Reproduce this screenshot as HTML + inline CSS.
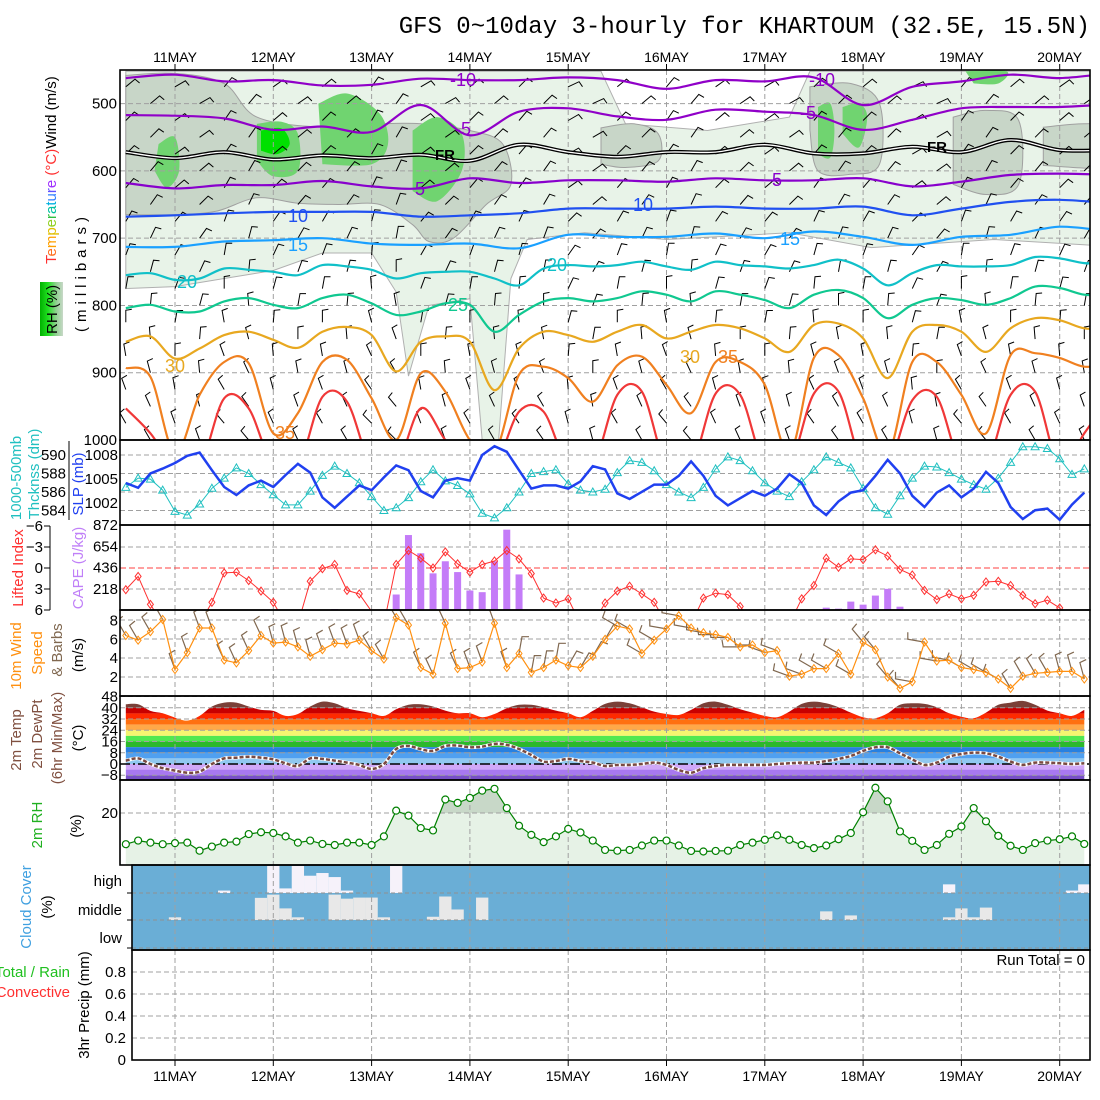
<!DOCTYPE html>
<html><head><meta charset="utf-8">
<style>
body{margin:0;background:#fff}
svg{display:block;font-family:"Liberation Sans",sans-serif}
.tick{font-size:15px;fill:#000}
.lab{font-size:15px}
</style></head>
<body>
<svg id="chart" width="1100" height="1100" viewBox="0 0 1100 1100" xmlns="http://www.w3.org/2000/svg">
<defs>
<clipPath id="c1"><rect x="120" y="70" width="970" height="370"/></clipPath>
<clipPath id="c2"><rect x="120" y="441" width="970" height="84"/></clipPath>
<clipPath id="c3"><rect x="120" y="525" width="970" height="85"/></clipPath>
<clipPath id="c4"><rect x="120" y="610" width="970" height="86"/></clipPath>
<clipPath id="c5"><rect x="120" y="696" width="970" height="84"/></clipPath>
<clipPath id="c6"><rect x="120" y="781" width="970" height="84"/></clipPath>
<clipPath id="tclip"><path id="tclippath" d=""/></clipPath>
<clipPath id="rhhigh"><rect x="120" y="781" width="970" height="32"/></clipPath>
<linearGradient id="rhbox" x1="0" x2="1" y1="0" y2="0"><stop offset="0" stop-color="#00b000"/><stop offset="0.35" stop-color="#20e020"/><stop offset="0.7" stop-color="#90d090"/><stop offset="1" stop-color="#c8d8c8"/></linearGradient>
</defs>
<rect x="0" y="0" width="1100" height="1100" fill="#fff"/>
<text x="1090" y="33" text-anchor="end" font-family="Liberation Mono, monospace" font-size="24" fill="#000">GFS 0~10day 3-hourly for KHARTOUM (32.5E, 15.5N)</text>

<g id="p1" clip-path="url(#c1)"></g>
<g id="p2" clip-path="url(#c2)"></g>
<g id="p3" clip-path="url(#c3)"></g>
<g id="p4" clip-path="url(#c4)"></g>
<g id="p5" clip-path="url(#c5)"></g>
<g id="p6" clip-path="url(#c6)"></g>
<g id="p7"></g>
<g id="p8"></g>
<g id="frames"></g>
<g id="axes"></g>

<g>
<text class="lab" transform="translate(86,272) rotate(-90)" text-anchor="middle" letter-spacing="5">(millibars)</text>
<text class="lab" transform="translate(56,264) rotate(-90)"><tspan fill="#ff3030">T</tspan><tspan fill="#ff7020">e</tspan><tspan fill="#ffa000">m</tspan><tspan fill="#e0c000">p</tspan><tspan fill="#90d020">e</tspan><tspan fill="#30c040">r</tspan><tspan fill="#00c0a0">a</tspan><tspan fill="#00b0e0">t</tspan><tspan fill="#3080ff">u</tspan><tspan fill="#6050ff">r</tspan><tspan fill="#a030ff">e</tspan><tspan fill="#ff3030"> (°C)</tspan><tspan fill="#000">Wind (m/s)</tspan></text>
<rect x="40" y="282" width="23" height="54" fill="url(#rhbox)"/>
<text class="lab" transform="translate(57,334) rotate(-90)">RH (%)</text>
</g>
<g>
<text class="lab" fill="#20c0c0" transform="translate(21,478) rotate(-90)" text-anchor="middle">1000-500mb</text>
<text class="lab" fill="#20c0c0" transform="translate(39,474) rotate(-90)" text-anchor="middle">Thcknss (dm)</text>
<text class="lab" fill="#2040f0" transform="translate(83,484) rotate(-90)" text-anchor="middle">SLP (mb)</text>
</g>
<g>
<text class="lab" fill="#ff3030" transform="translate(23,568) rotate(-90)" text-anchor="middle">Lifted Index</text>
<text class="lab" fill="#c080f8" transform="translate(83,568) rotate(-90)" text-anchor="middle">CAPE (J/kg)</text>
</g>
<g>
<text class="lab" fill="#ff9010" transform="translate(21,656) rotate(-90)" text-anchor="middle">10m Wind</text>
<text class="lab" fill="#ff9010" transform="translate(42,653) rotate(-90)" text-anchor="middle">Speed</text>
<text class="lab" fill="#806850" transform="translate(62,650) rotate(-90)" text-anchor="middle">&amp; Barbs</text>
<text class="lab" transform="translate(83,655) rotate(-90)" text-anchor="middle">(m/s)</text>
</g>
<g>
<text class="lab" fill="#805040" transform="translate(21,740) rotate(-90)" text-anchor="middle">2m Temp</text>
<text class="lab" fill="#805040" transform="translate(42,734) rotate(-90)" text-anchor="middle">2m DewPt</text>
<text class="lab" fill="#805040" transform="translate(62,738) rotate(-90)" text-anchor="middle">(6hr Min/Max)</text>
<text class="lab" transform="translate(83,738) rotate(-90)" text-anchor="middle">(°C)</text>
</g>
<g>
<text class="lab" fill="#20b020" transform="translate(42,825) rotate(-90)" text-anchor="middle">2m RH</text>
<text class="lab" transform="translate(81,826) rotate(-90)" text-anchor="middle">(%)</text>
</g>
<g>
<text class="lab" fill="#40a0e0" transform="translate(31,907) rotate(-90)" text-anchor="middle">Cloud Cover</text>
<text class="lab" transform="translate(52,907) rotate(-90)" text-anchor="middle">(%)</text>
<text class="tick" x="122" y="886" text-anchor="end">high</text>
<text class="tick" x="122" y="915" text-anchor="end">middle</text>
<text class="tick" x="122" y="943" text-anchor="end">low</text>
</g>
<g>
<text class="lab" fill="#20c020" x="70" y="977" text-anchor="end">Total / Rain</text>
<text class="lab" fill="#ff3030" x="70" y="997" text-anchor="end">Convective</text>
<text class="lab" transform="translate(89,1005) rotate(-90)" text-anchor="middle">3hr Precip (mm)</text>
<text class="tick" x="1085" y="965" text-anchor="end" font-size="14">Run Total = 0</text>
</g>
</svg>
<script>
const dayLabels = ["11MAY","12MAY","13MAY","14MAY","15MAY","16MAY","17MAY","18MAY","19MAY","20MAY"];
const slp = [1004.5,1003.9,1005.7,1006.3,1007.0,1007.9,1008.3,1006.1,1004.0,1003.0,1004.2,1004.8,1004.0,1005.5,1006.9,1005.8,1002.7,1001.4,1002.8,1004.2,1003.6,1005.2,1006.7,1006.1,1003.5,1002.7,1004.8,1005.1,1004.8,1008.0,1009.1,1008.4,1006.1,1003.8,1004.2,1004.2,1003.8,1004.7,1006.6,1006.2,1003.2,1002.5,1003.4,1004.3,1004.3,1005.4,1007.2,1005.4,1002.9,1001.7,1002.6,1003.5,1002.9,1003.8,1005.6,1004.5,1001.7,1000.5,1002.2,1003.3,1003.6,1005.4,1007.4,1005.7,1002.9,1001.5,1003.3,1004.2,1002.7,1003.8,1005.9,1004.5,1001.5,1000.0,1001.1,1001.3,999.9,1001.8,1003.3];
const thick = [586.5,587.5,587.4,586.2,583.9,583.5,584.7,586.4,587.5,588.6,588.0,586.8,585.7,584.6,584.6,586.1,587.8,588.8,588.0,587.0,585.5,584.0,584.3,585.4,587.1,588.4,587.2,586.7,585.8,583.7,583.2,584.3,586.0,588.0,588.2,588.4,586.9,586.2,586.0,586.3,588.1,589.4,589.2,588.3,586.8,586.0,585.4,586.5,588.5,589.8,589.4,588.3,587.0,586.1,585.5,587.1,588.4,589.8,589.2,588.6,586.4,584.3,583.6,585.6,587.5,588.8,588.7,588.1,587.4,586.8,586.3,587.5,589.2,590.9,590.9,590.7,589.6,587.9,588.5];
const liftedIndex = [3.1,1.2,5.2,8,8,8,8,4.9,0.7,0.6,1.8,3.3,4.9,8,8,1.9,0.1,-0.5,3.2,3.7,6.2,8,-0.5,-2.5,-1.4,0,-2.3,-0.6,0.6,-0.5,-1.0,-2.5,-1.3,0.8,4.3,5.0,4.4,8,8,5.0,3.3,2.6,3.7,4.9,8,8,8,4.3,3.6,3.8,5.5,8,8,8,8,4.4,2.5,-1.4,-0.1,-1.3,-1.2,-2.6,-1.7,0.2,1.0,3.2,4.5,3.7,4.4,3.9,2.0,1.9,2.5,3.9,5.1,4.6,5.7,8,8];
const cape = [0,0,0,0,0,0,0,0,0,0,0,0,0,0,0,0,0,10,0,0,0,0,159,769,582,376,500,389,200,183,500,824,365,0,0,0,0,0,0,0,0,0,0,0,0,0,0,0,0,0,0,0,0,0,0,0,0,24,14,86,55,148,217,34,0,0,0,0,0,0,0,0,0,0,0,0,0,0,0];
const windSpeed = [6.4,5.9,6.8,8.1,2.8,4.6,7.2,7.2,3.8,3.5,4.8,6.4,5.6,5.7,5.2,4.2,4.9,5.6,5.5,5.9,4.8,3.9,8.3,7.5,3.0,2.3,7.7,2.9,3.0,3.6,7.7,3.0,4.5,2.5,3.0,3.8,3.2,3.0,4.2,6.0,7.4,7.1,4.5,5.9,7.1,8.5,7.2,6.7,6.5,6.2,5.2,5.4,4.6,4.8,2.1,2.3,2.9,2.9,4.5,2.3,5.7,4.9,2.0,0.8,1.5,5.7,3.7,3.8,3.0,2.8,2.5,1.8,0.8,2.1,2.4,2.5,2.6,2.6,1.8];
const windDir12h = [330,340,335,345,340,330,335,340,10,30,300,280,270,290,300,320,280,300,330,345];
const temp2m = [42.5,42.5,37.8,36.1,33.0,30.9,34.2,40.9,43.7,43.7,40.9,38.5,37.8,34.2,35.6,40.9,44.4,43.2,39.7,37.8,36.1,34.2,39.0,42.1,42.5,40.9,38.0,36.1,36.1,33.3,35.6,39.7,42.1,42.1,40.4,38.0,36.1,33.3,37.8,42.8,44.4,43.2,40.4,37.3,35.6,34.9,38.5,43.2,44.4,42.1,39.0,36.6,34.2,33.3,37.3,42.8,44.4,43.2,40.4,36.6,33.3,32.6,36.1,42.1,43.2,42.8,40.4,36.1,33.7,32.6,36.6,42.1,43.7,44.9,42.1,38.0,36.1,34.2,38.5];
const dew2m = [2.4,4.0,0,-3.0,-4.7,-6.2,-5.4,0,4.0,4.5,5.2,4.5,3.3,0.5,-1.4,4.0,3.6,2.4,1.0,-0.7,-3.5,0,10.7,12.8,10.5,9.3,12.8,13.1,11.9,12.4,14.3,13.6,10.7,6.4,1.7,2.1,3.6,2.1,1.0,-1.4,-0.7,-0.7,0,1.0,-0.7,-4.3,-6.2,-3.0,-1.4,-0.7,-0.7,-0.7,-0.7,0,0.5,1.0,1.0,2.1,3.6,5.7,9.3,11.9,11.9,7.6,3.3,-0.7,1.0,5.2,7.1,8.1,7.6,5.2,1.7,-0.7,1.0,1.0,0.5,0,0.5];
const rh2m = [8,9.4,8.6,8,8.4,8.6,5.5,7.1,8.6,9,11.9,12.6,12.3,11,8.6,9.4,8.1,7.7,8.6,8.6,7.7,11,20.9,19,14.2,13.3,25.2,23.9,25.8,28.6,29.3,21.9,15.1,11.6,8.8,11,13.9,12.5,9.4,5.8,5.5,5.8,7.5,9.4,9.4,7.5,5.4,5.2,5.4,5.5,7.7,8.6,9.7,11.4,9.7,7.7,6.5,7.5,9.9,12.3,20.3,29.7,24.5,12.9,9.3,5.8,7.7,12,14.8,21.9,16.8,11.2,7.4,5.8,8.4,9.4,9.9,11,8.1];
const cloudHigh = [0,0,0,0,0,0,0,0,9,0,0,0,100,17,100,64,74,59,9,0,0,0,100,0,0,0,0,0,0,0,0,0,0,0,0,0,0,0,0,0,0,0,0,0,0,0,0,0,0,0,0,0,0,0,0,0,0,0,0,0,0,0,0,0,0,0,0,32,0,0,0,0,0,0,0,0,0,9,32];
const cloudMid = [0,0,0,0,10,0,0,0,0,0,0,82,94,43,10,0,0,94,79,83,83,10,0,0,0,12,87,39,0,83,0,0,0,0,0,0,0,0,0,0,0,0,0,0,0,0,0,0,0,0,0,0,0,0,0,0,0,32,0,17,0,0,0,0,0,0,0,10,43,10,46,0,0,0,0,0,0,0,0];
const cloudLow = new Array(79).fill(0);
const isoM10 = [462,457,467,465,473,472,463,465,465,461,465,478,465,467,461,502,475,467,457,462,455];
const isoM5 = [517,518,522,539,534,542,502,547,512,507,519,524,509,512,517,539,524,507,505,505,501];
const iso0 = [572,581,572,583,577,581,576,585,561,572,579,572,572,561,574,574,564,572,554,569,569];
const iso5 = [618,626,621,621,615,623,626,611,618,614,614,616,611,614,614,611,623,616,606,604,606];
const iso10 = [668,666,663,661,661,661,668,666,663,656,656,656,653,656,656,653,666,656,646,643,648];
const iso15 = [713,713,705,703,700,708,710,708,715,695,698,698,693,700,690,698,710,698,695,683,690];
const iso20 = [755,752,762,760,745,747,750,755,740,742,747,760,752,750,750,760,770,745,740,742,740,735,742,747,735,740,742,745,740,732,745,770,752,740,742,742,740,728,730,737,737];
const iso25 = [804,799,809,809,794,789,799,804,789,784,797,814,809,797,799,839,814,794,789,794,789,779,784,794,779,784,792,804,784,777,789,819,799,789,792,799,789,772,774,784,784];
const iso30 = [854,846,879,864,844,839,851,863,839,832,844,898,854,846,854,926,864,839,844,854,839,829,849,839,829,834,849,869,829,827,849,908,839,829,839,869,834,819,822,834,834];
const iso35 = [893,906,1020,933,884,886,990,960,884,881,938,1000,901,928,1000,1020,903,891,908,943,889,876,918,960,884,884,918,1020,878,874,938,1020,884,884,933,990,874,871,878,891,886];
const iso40 = [953,990,1040,1040,938,953,1040,1040,936,943,1040,1040,953,1000,1040,1040,958,958,1040,1040,933,928,1040,1040,931,933,1040,1040,931,928,1040,1040,941,936,1040,1040,933,928,1040,990,938];
const levelDirs = [50,50,45,45,45,40,40,35,30,25,20,15,10,5,0,355,350,345,340,335,330,330];
const dirShift12h = [0,10,-10,5,0,-15,10,0,-5,15,0,-10,5,10,-5,0,15,-10,0,5];
const rhLight = [[-12,452],[104,452],[110,530],[130,540],[150,520],[155,452],[228,452],[228,712],[200,702],[170,714],[150,692],[120,702],[100,692],[86,702],[82,760],[79,1000],[75,1000],[72,790],[62,800],[57,905],[54,780],[48,722],[36,722],[24,748],[12,760],[0,772],[-12,775]];
const rhDark = [[[-12,458],[0,455],[12,470],[20,520],[36,535],[50,530],[60,530],[72,540],[80,560],[82,620],[76,650],[68,700],[62,705],[58,680],[50,650],[40,650],[30,648],[20,640],[10,660],[0,665],[-12,665]],
 [[104,536],[112,530],[118,545],[118,585],[110,595],[104,590]],
 [[155,475],[165,470],[172,500],[172,590],[165,605],[157,600],[155,540]],
 [[190,520],[198,510],[206,525],[206,620],[198,635],[190,620]],
 [[212,535],[222,530],[230,535],[230,592],[212,592]]];
const rhGreen = [[[-4,560],[0,550],[1,600],[-2,625],[-5,600]],[[20,530],[26,527],[30,545],[30,600],[24,608],[20,585]],[[35,500],[42,485],[50,515],[52,560],[48,590],[36,590]],[[58,540],[64,520],[70,545],[70,600],[64,645],[58,630]],[[157,505],[160,500],[161,540],[160,580],[157,575]],[[163,505],[167,500],[169,520],[167,565],[163,545]],[[193,452],[203,452],[201,470],[195,470]]];
const rhBright = [[[21,540],[26,537],[28,560],[25,575],[21,570]]];

const NS='http://www.w3.org/2000/svg';
function mk(tag, attrs, parent){const e=document.createElementNS(NS,tag);for(const k in attrs)e.setAttribute(k,attrs[k]);parent.appendChild(e);return e;}
const X0=175, DAY=98.3;
const hx=h=>X0+h*DAY/24;
const ix=i=>hx(-12+3*i);
const py=p=>70+(p-450)*370/550;
function smooth(pts){let d='M'+pts[0][0].toFixed(1)+','+pts[0][1].toFixed(1);
 for(let i=0;i<pts.length-1;i++){const p0=pts[Math.max(0,i-1)],p1=pts[i],p2=pts[i+1],p3=pts[Math.min(pts.length-1,i+2)];
  const c1=[p1[0]+(p2[0]-p0[0])/6,p1[1]+(p2[1]-p0[1])/6],c2=[p2[0]-(p3[0]-p1[0])/6,p2[1]-(p3[1]-p1[1])/6];
  d+=' C'+c1[0].toFixed(1)+','+c1[1].toFixed(1)+' '+c2[0].toFixed(1)+','+c2[1].toFixed(1)+' '+p2[0].toFixed(1)+','+p2[1].toFixed(1);}
 return d;}
function poly(pts){return pts.map(p=>p[0].toFixed(1)+','+p[1].toFixed(1)).join(' ');}
const GRID='#a0a0a0';
function hgrid(parent,y,x0,color,dash){const l=mk('line',{x1:x0||120,x2:1090,y1:y,y2:y,stroke:color||GRID,'stroke-width':1,'stroke-dasharray':dash||'5,3'},parent);
 
 }
function vgrid(parent,y0,y1){for(let d=0;d<dayLabels.length;d++){const x=X0+DAY*d;const l=mk('line',{x1:x,x2:x,y1:y0,y2:y1,stroke:GRID,'stroke-width':1,'stroke-dasharray':'5,3'},parent);
 
 }}
const N=slp.length;

// panel 1
const p1=document.getElementById('p1');
const hp=a=>a.map(q=>[hx(q[0]),py(q[1])]);
let sh=mk('polygon',{points:poly(hp(rhLight)),fill:'#e8f3e8',stroke:'#b0b0b0','stroke-width':1},p1);


rhDark.forEach(r=>{const e=mk('path',{d:smooth(hp(r))+'Z',fill:'#c8d6c8',stroke:'#a0a0a0','stroke-width':1},p1);
 
 });
rhGreen.forEach(r=>{const e=mk('path',{d:smooth(hp(r))+'Z',fill:'#70d470'},p1);
 
 });
rhBright.forEach(r=>{const e=mk('path',{d:smooth(hp(r))+'Z',fill:'#00e000'},p1);
 
 });
[500,600,700,800,900].forEach(p=>hgrid(p1,py(p)));
vgrid(p1,70,440);
for(let c=0;c<40;c++){const h=-12+6*c;const x=hx(h);
 levelDirs.forEach((ld,l)=>{if((l+c)%2)return;const p=475+25*l;const y=py(p);const dir=(ld+dirShift12h[Math.min(19,Math.floor(c/2))])*Math.PI/180;
  const tx=x+Math.sin(dir)*12,ty=y-Math.cos(dir)*12;const fd=dir+80*Math.PI/180;
  const b=mk('path',{d:'M'+x.toFixed(1)+','+y.toFixed(1)+'L'+tx.toFixed(1)+','+ty.toFixed(1)+'L'+(tx+Math.sin(fd)*6).toFixed(1)+','+(ty-Math.cos(fd)*6).toFixed(1),fill:'none',stroke:'#000','stroke-width':1},p1);
  
  });}
const iso12=[[isoM10,'#9000c8','isotherm-minus10'],[isoM5,'#9000c8','isotherm-minus5'],[iso5,'#8800cc','isotherm-5'],[iso10,'#2050f0','isotherm-10'],[iso15,'#1aa0ff','isotherm-15']];
iso12.forEach(s=>{const pts=s[0].map((p,k)=>[hx(-12+12*k),py(p)]);const e=mk('path',{d:smooth(pts),fill:'none',stroke:s[1],'stroke-width':2.2},p1);
 
 });
{const pts=iso0.map((p,k)=>[hx(-12+12*k),py(p)]);
 const e1=mk('path',{d:smooth(pts),fill:'none',stroke:'#000','stroke-width':4},p1);
 
 
 const e2=mk('path',{d:smooth(pts),fill:'none',stroke:'#fff','stroke-width':1.3},p1);
 
 }
const iso6=[[iso20,'#10c0c8','isotherm-20'],[iso25,'#10c890','isotherm-25'],[iso30,'#e8a820','isotherm-30'],[iso35,'#f08020','isotherm-35'],[iso40,'#f03838','isotherm-40']];
iso6.forEach(s=>{const pts=s[0].map((p,k)=>[hx(-12+6*k),py(p)]);const e=mk('path',{d:smooth(pts),fill:'none',stroke:s[1],'stroke-width':2.2},p1);
 
 });
const contourLabels=[["-10",463,86,"#9000c8"],["-10",822,86,"#9000c8"],["-5",463,135,"#9000c8"],["-5",808,119,"#9000c8"],["FR",445,160,"#000"],["FR",937,152,"#000"],["5",420,195,"#8800cc"],["5",777,186,"#8800cc"],["10",298,222,"#2050f0"],["10",643,211,"#2050f0"],["15",298,251,"#1aa0ff"],["15",790,245,"#1aa0ff"],["20",187,288,"#10c0c8"],["20",557,271,"#10c0c8"],["25",458,311,"#10c890"],["30",175,372,"#e8a820"],["30",690,363,"#e8a820"],["35",728,363,"#f08020"],["35",285,439,"#f08020"]];
contourLabels.forEach(c=>{const t=mk('text',{x:c[1],y:c[2],'text-anchor':'middle','font-size':c[0]==='FR'?15:18,fill:c[3],'font-weight':c[0]==='FR'?'bold':'normal'},p1);t.textContent=c[0];
 
 });

// panel 2
const p2=document.getElementById('p2');
const ySlp=v=>455+(1008-v)*8;
const yTh=v=>455+(590-v)*9.25;
[455,473.5,492,510.5].forEach(y=>hgrid(p2,y));
vgrid(p2,441,525);
{const e=mk('polyline',{points:poly(thick.map((v,i)=>[ix(i),yTh(v)])),fill:'none',stroke:'#20c0c0','stroke-width':1},p2);
 
 }
thick.forEach((v,i)=>{const x=ix(i),y=yTh(v);const m=mk('polygon',{points:poly([[x,y-4],[x-4,y+3],[x+4,y+3]]),fill:'none',stroke:'#20c0c0','stroke-width':1},p2);
 
 });
{const e=mk('polyline',{points:poly(slp.map((v,i)=>[ix(i),ySlp(v)])),fill:'none',stroke:'#2040f0','stroke-width':2.5},p2);
 
 }

// panel 3
const p3=document.getElementById('p3');
const yCape=v=>610-v/872*85;
const yLi=v=>568+v*7;
[547,589].forEach(y=>hgrid(p3,y));
vgrid(p3,525,610);
hgrid(p3,568,120,'#ff4040','6,3');
cape.forEach((v,i)=>{if(v<=0)return;const r=mk('rect',{x:ix(i)-3.5,y:yCape(v),width:7,height:610-yCape(v),fill:'#c47cf8'},p3);
 
 });
{const e=mk('polyline',{points:poly(liftedIndex.map((v,i)=>[ix(i),yLi(v)])),fill:'none',stroke:'#ff3030','stroke-width':1},p3);
 
 }
liftedIndex.forEach((v,i)=>{if(v>6)return;const x=ix(i),y=yLi(v);const m=mk('polygon',{points:poly([[x,y-4],[x+3,y],[x,y+4],[x-3,y]]),fill:'none',stroke:'#ff3030','stroke-width':1},p3);
 
 });

// panel 4
const p4=document.getElementById('p4');
const yWs=v=>696-v*9.45;
[620,639,658,677].forEach(y=>hgrid(p4,y));
vgrid(p4,610,696);
windSpeed.forEach((v,i)=>{const x=ix(i),y=yWs(v);const dir=windDir12h[Math.min(19,Math.floor(i/4))]*Math.PI/180;
 const tx=x+Math.sin(dir)*17,ty=y-Math.cos(dir)*17;const fd=dir+80*Math.PI/180;
 const b=mk('path',{d:'M'+x.toFixed(1)+','+y.toFixed(1)+'L'+tx.toFixed(1)+','+ty.toFixed(1)+'L'+(tx+Math.sin(fd)*7).toFixed(1)+','+(ty-Math.cos(fd)*7).toFixed(1),fill:'none',stroke:'#806850','stroke-width':1.2},p4);
 
 });
{const e=mk('polyline',{points:poly(windSpeed.map((v,i)=>[ix(i),yWs(v)])),fill:'none',stroke:'#ff9010','stroke-width':1.2},p4);
 
 }
windSpeed.forEach((v,i)=>{const x=ix(i),y=yWs(v);const m=mk('polygon',{points:poly([[x,y-4],[x+3,y],[x,y+4],[x-3,y]]),fill:'none',stroke:'#ff9010','stroke-width':1},p4);
 
 });

// panel 5
const p5=document.getElementById('p5');
const yT=v=>764-v*1.405;
const tPts=temp2m.map((v,i)=>[ix(i),yT(v)]);
document.getElementById('tclippath').setAttribute('d',smooth(tPts)+' L'+ix(N-1)+',780 L'+ix(0)+',780 Z');
const bands=[[40,60,'#7a4038'],[36,40,'#c80000'],[32,36,'#ff2a00'],[28,32,'#ff7010'],[24,28,'#ffa848'],[20,24,'#f5f570'],[16,20,'#50e850'],[12,16,'#2cb82c'],[8,12,'#2880e0'],[4,8,'#50a0f0'],[0,4,'#90c8f0'],[-4,0,'#d0a8f8'],[-8,-4,'#a878f0'],[-20,-8,'#7850c8']];
const bg=mk('g',{'clip-path':'url(#tclip)'},p5);


bands.forEach(b=>{const r=mk('rect',{x:120,width:970,y:yT(b[1]),height:yT(b[0])-yT(b[1]),fill:b[2]},bg);
 
 });
[48,40,32,24,16,8,-8].forEach(v=>hgrid(p5,yT(v)));
vgrid(p5,696,780);
{const l=mk('line',{x1:120,x2:1090,y1:yT(0),y2:yT(0),stroke:'#000','stroke-width':1.5,'stroke-dasharray':'10,3,2,3'},p5);
 
 }
{const d=smooth(dew2m.map((v,i)=>[ix(i),yT(v)]));
 const e1=mk('path',{d:d,fill:'none',stroke:'#fff','stroke-width':3.5},p5);
 
 
 const e2=mk('path',{d:d,fill:'none',stroke:'#7a4a42','stroke-width':2.5,'stroke-dasharray':'4,2'},p5);
 
 }

// panel 6
const p6=document.getElementById('p6');
const yRh=v=>865-v*2.6;
const rhPts=rh2m.map((v,i)=>[ix(i),yRh(v)]);
const rhArea=poly([[ix(0),865]].concat(rhPts,[[ix(N-1),865]]));
{const a=mk('polygon',{points:rhArea,fill:'#e6f2e6'},p6);
 
 
 const a2=mk('polygon',{points:rhArea,fill:'#c8d8c8','clip-path':'url(#rhhigh)'},p6);
 
 }
hgrid(p6,yRh(20));
vgrid(p6,781,865);
{const e=mk('polyline',{points:poly(rhPts),fill:'none',stroke:'#008000','stroke-width':1.2},p6);
 
 }
rhPts.forEach(p=>{const c=mk('circle',{cx:p[0],cy:p[1],r:3.5,fill:'#fff',stroke:'#008000','stroke-width':1.2},p6);
 
 });

// panel 7
const p7=document.getElementById('p7');
{const r=mk('rect',{x:132,y:865,width:958,height:85,fill:'#6aaed6'},p7);
 
 }
const rows=[[cloudHigh,893,'#f6f2fa'],[cloudMid,920,'#e8e8e8'],[cloudLow,948,'#e8e8e8']];
rows.forEach(rw=>{rw[0].forEach((v,i)=>{if(v<=0)return;const hgt=v/100*27;const r=mk('rect',{x:ix(i)-6.15,y:rw[1]-hgt,width:12.3,height:hgt,fill:rw[2]},p7);
 
 });});
[893,920,948].forEach(y=>hgrid(p7,y,132,'#909090','4,3'));
vgrid(p7,865,950);

// panel 8
const p8=document.getElementById('p8');
const yPr=v=>1060-v*110;
[0.2,0.4,0.6,0.8].forEach(v=>hgrid(p8,yPr(v),132));
vgrid(p8,950,1060);

// frames & axes
const fr=document.getElementById('frames');
[[120,70,970,370],[120,440,970,85],[120,525,970,85],[120,610,970,86],[120,696,970,84],[120,780,970,85],[132,865,958,85],[132,950,958,110]].forEach(r=>{
 const e=mk('rect',{x:r[0],y:r[1],width:r[2],height:r[3],fill:'none',stroke:'#000','stroke-width':1.6},fr);
 
 });
const ax=document.getElementById('axes');
function tl(x,y,txt,anchor,name,size){const t=mk('text',{x:x,y:y,'text-anchor':anchor||'end','font-size':size||15,fill:'#000'},ax);t.textContent=txt;
 
 }
dayLabels.forEach((d,k)=>{const x=X0+DAY*k;tl(x,62,d,'middle','top-date-label',14);tl(x,1081,d,'middle','bottom-date-label',14);
 const t1=mk('line',{x1:x,x2:x,y1:64,y2:70,stroke:'#000'},ax);
 
 
 const t2=mk('line',{x1:x,x2:x,y1:1060,y2:1066,stroke:'#000'},ax);
 
 });
[500,600,700,800,900,1000].forEach(p=>tl(117,py(p)+5,String(p),'end','pressure-tick'));
[[1008,455],[1005,479],[1002,503]].forEach(a=>tl(118,a[1]+5,String(a[0]),'end','slp-tick'));
[[590,455],[588,473.5],[586,492],[584,510.5]].forEach(a=>tl(66,a[1]+5,String(a[0]),'end','thickness-tick'));
{const l=mk('line',{x1:69,x2:69,y1:441,y2:520,stroke:'#000'},ax);
 
 }
[872,654,436,218].forEach(v=>tl(118,yCape(v)+5,String(v),'end','cape-tick'));
[-6,-3,0,3,6].forEach(v=>{tl(43,yLi(v)+5,v<0?'\u2212'+(-v):String(v),'end','li-tick');
 const t=mk('line',{x1:44,x2:50,y1:yLi(v),y2:yLi(v),stroke:'#000'},ax);
 
 });
{const l=mk('line',{x1:50,x2:50,y1:526,y2:610,stroke:'#000'},ax);
 
 }
[8,6,4,2].forEach(v=>tl(118,yWs(v)+5,String(v),'end','wind-tick'));
[48,40,32,24,16,8,0,-8].forEach(v=>tl(118,yT(v)+5,v<0?'\u2212'+(-v):String(v),'end','temp-tick'));
tl(118,yRh(20)+5,'20','end','rh-tick');
[0.8,0.6,0.4,0.2].forEach(v=>tl(126,yPr(v)+5,String(v),'end','precip-tick'));
tl(126,1065,'0','end','precip-tick');
[893,920,948].forEach(y=>{const t=mk('line',{x1:127,x2:132,y1:y,y2:y,stroke:'#000'},ax);
 
 });
</script>
</body></html>
